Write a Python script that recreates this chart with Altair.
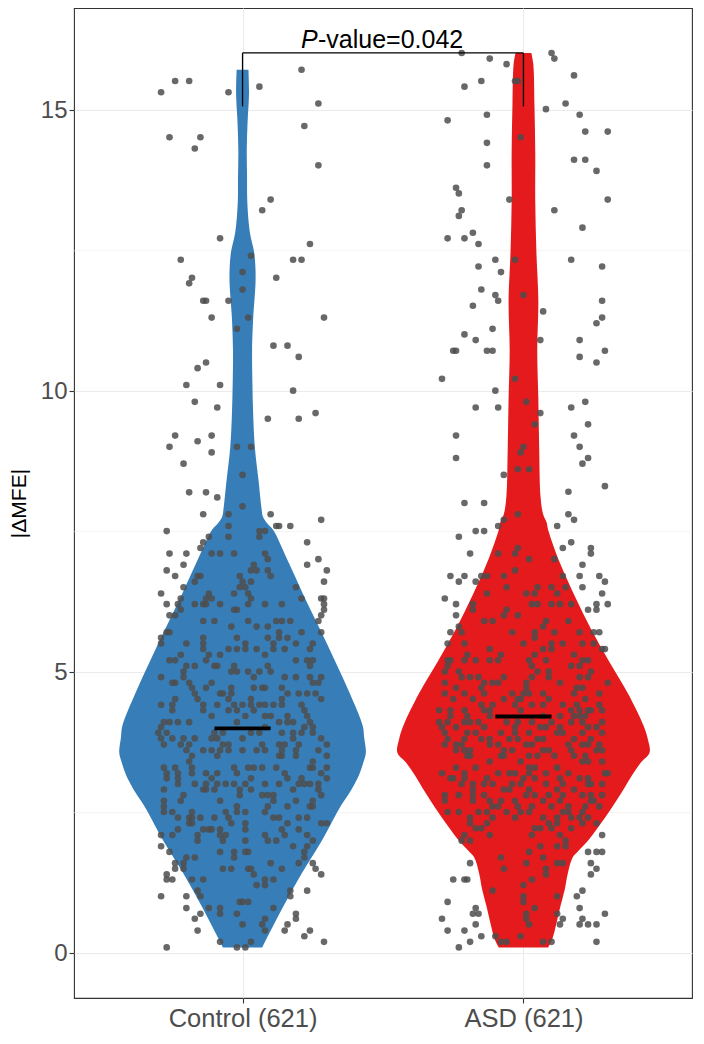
import altair as alt
import pandas as pd

# ---------------- data ----------------
groups = ["Control (621)", "ASD (621)"]
group_pos = [1, 2]
violin_colors = ["#377EB8", "#E41A1C"]
medians = [4.00, 4.21]
p_value_text = ["P", "-value=0.042"]
bracket_top = 16.02
bracket_bottom = 15.07
y_major = [0, 5, 10, 15]
y_minor = [2.5, 7.5, 12.5]

# violin outline: value level and half width (in category units)
ctrl_violin_value = [15.72, 15.30, 14.80, 14.30, 13.83, 13.36, 12.83, 12.48, 12.19, 11.90, 11.60,
                     11.31, 10.73, 10.16, 9.56, 8.99, 8.41, 7.94, 7.76, 7.64, 7.53, 6.94, 6.36,
                     5.78, 5.19, 4.62, 4.04, 3.83, 3.57, 3.39, 3.16, 3.04, 2.87, 2.57, 1.99, 1.42,
                     0.82, 0.24, 0.10]
ctrl_violin_half = [0.021, 0.023, 0.018, 0.015, 0.016, 0.017, 0.026, 0.041, 0.046, 0.046, 0.042,
                    0.038, 0.034, 0.035, 0.038, 0.044, 0.057, 0.067, 0.073, 0.089, 0.109, 0.165, 0.218,
                    0.274, 0.330, 0.382, 0.428, 0.433, 0.439, 0.430, 0.414, 0.402, 0.383, 0.344, 0.281, 0.211,
                    0.144, 0.084, 0.070]
asd_violin_value = [16.02, 15.82, 15.12, 14.25, 13.37, 12.48, 11.60, 10.73, 9.86, 8.99, 8.11, 7.81,
                    7.67, 7.53, 6.94, 6.36, 5.78, 5.19, 4.62, 4.04, 3.80, 3.57, 3.39, 3.16, 2.87,
                    2.57, 2.26, 1.99, 1.82, 1.70, 1.42, 1.13, 0.84, 0.56, 0.24, 0.10]
asd_violin_half = [0.028, 0.035, 0.039, 0.042, 0.042, 0.046, 0.053, 0.049, 0.053, 0.056, 0.061, 0.070,
                   0.082, 0.088, 0.130, 0.182, 0.239, 0.305, 0.372, 0.428, 0.443, 0.449, 0.418, 0.386, 0.351,
                   0.312, 0.269, 0.228, 0.196, 0.175, 0.158, 0.147, 0.132, 0.119, 0.102, 0.088]

# jittered points: (|dMFE| value, [horizontal jitter offsets])
ctrl_rows = [
    (15.72, [0.21]), (15.52, [-0.24, -0.19]), (15.42, [0.06]), (15.32, [-0.29, -0.05]),
    (15.12, [0.27]), (14.72, [0.22]), (14.52, [-0.26, -0.15]), (14.32, [-0.17]), (14.02, [0.27]),
    (13.41, [0.10]), (13.22, [0.07]), (12.72, [-0.08]), (12.62, [0.24]), (12.41, [0.03]),
    (12.34, [-0.22, 0.18, 0.21]), (12.12, [0.00]), (12.02, [-0.18, 0.12]), (11.92, [-0.19]),
    (11.81, [0.00]), (11.61, [-0.14, -0.13, -0.05]), (11.31, [-0.11, 0.02, 0.29]), (11.11, [-0.02]),
    (10.81, [0.11, 0.16]), (10.61, [0.20]), (10.51, [-0.13]), (10.41, [-0.16]), (10.11, [-0.20, -0.08]),
    (10.01, [0.18]), (9.81, [-0.17]), (9.71, [-0.09]), (9.61, [0.26]), (9.51, [0.09, 0.20]),
    (9.21, [-0.24, -0.11]), (9.11, [-0.16]), (9.01, [-0.26, -0.02, 0.03]), (8.91, [-0.11]),
    (8.71, [-0.21]), (8.51, [0.00]), (8.20, [-0.19, -0.13]), (8.11, [-0.09]), (7.95, [0.00]),
    (7.81, [-0.14, -0.05, 0.10]), (7.71, [0.28]), (7.60, [-0.05, 0.12, 0.13, 0.17]),
    (7.51, [-0.27, 0.06, 0.08]), (7.41, [-0.12, -0.05, 0.06]), (7.31, [-0.14, 0.23]), (7.21, [-0.15]),
    (7.11, [-0.26, -0.20, -0.11, -0.08, -0.03, 0.08]), (7.01, [0.09, 0.27]), (6.91, [-0.21, 0.04, 0.23]),
    (6.81, [-0.27, 0.03, 0.05, 0.09, 0.30]), (6.71, [-0.24, -0.16, -0.15, -0.01, 0.10]),
    (6.61, [-0.17, 0.00, 0.03, 0.29]), (6.51, [-0.21, -0.01, 0.01, 0.19]), (6.40, [-0.29, -0.12, -0.03, 0.02]),
    (6.31, [-0.22, -0.13, -0.11, 0.03, 0.21, 0.28, 0.29]),
    (6.21, [-0.27, -0.23, -0.17, -0.14, -0.13, -0.08, 0.02, 0.08, 0.14, 0.29]),
    (6.11, [-0.22, -0.03, -0.02, 0.29]), (6.01, [-0.26, -0.24, 0.28]),
    (5.91, [-0.14, -0.10, 0.02, 0.12, 0.14, 0.17, 0.27]), (5.81, [-0.04, 0.05, 0.09]),
    (5.71, [-0.27, -0.26, 0.13, 0.21, 0.28]), (5.61, [-0.29, -0.14, -0.02, 0.09, 0.13, 0.16]),
    (5.51, [-0.29, -0.20, -0.14, 0.01, 0.11, 0.19, 0.25]),
    (5.41, [-0.14, -0.05, -0.02, 0.01, 0.05, 0.11, 0.15, 0.24]), (5.31, [-0.22, -0.12, -0.08, 0.08]),
    (5.21, [-0.26, -0.24, -0.13, 0.19, 0.23, 0.25]), (5.11, [-0.20, -0.17, -0.10, -0.09, -0.03, 0.09, 0.24]),
    (5.01, [-0.21, -0.04, -0.02, 0.02, 0.06, 0.10]), (4.91, [-0.29, -0.21, 0.04, 0.15, 0.19, 0.24, 0.28]),
    (4.81, [-0.25, -0.24, -0.19, -0.11, 0.25, 0.27]), (4.72, [-0.18, -0.13, -0.04, 0.04, 0.07, 0.08, 0.14]),
    (4.62, [-0.17, -0.08, -0.07, -0.04, 0.16, 0.20, 0.23, 0.26]), (4.52, [-0.24, -0.16, -0.05, 0.03, 0.14, 0.28]),
    (4.42, [-0.29, -0.25, -0.14, -0.09, -0.03, 0.00, 0.03, 0.06, 0.08, 0.11, 0.14, 0.21]),
    (4.32, [-0.25, -0.14, -0.05, -0.02, 0.04, 0.22]), (4.22, [-0.11, 0.01, 0.08, 0.10, 0.16, 0.23]),
    (4.11, [-0.28, -0.26, -0.23, -0.19, -0.02, 0.13, 0.16, 0.18, 0.24]), (4.02, [-0.29, 0.08, 0.22, 0.25]),
    (3.92, [-0.30, -0.27, -0.10, -0.07, 0.03, 0.06, 0.14, 0.18, 0.21, 0.25]),
    (3.82, [-0.29, -0.25, -0.21, -0.17, -0.11, -0.09, 0.00, 0.18, 0.28]),
    (3.71, [-0.28, -0.22, -0.19, -0.07, -0.05, 0.07, 0.13, 0.15, 0.20, 0.30]),
    (3.61, [-0.20, -0.14, -0.11, -0.08, -0.05, 0.00, 0.05, 0.08, 0.14, 0.19, 0.27]),
    (3.51, [-0.18, -0.09, 0.13, 0.14, 0.19, 0.30]), (3.41, [-0.19, 0.25]),
    (3.30, [-0.28, -0.24, -0.18, -0.03, 0.02, 0.04, 0.07, 0.12, 0.24, 0.25, 0.30]),
    (3.20, [-0.27, -0.23, -0.18, -0.13, -0.09, -0.02, 0.15, 0.28]),
    (3.11, [-0.27, -0.23, -0.11, 0.03, 0.16, 0.21, 0.30]),
    (3.01, [-0.23, -0.17, -0.13, -0.09, -0.06, -0.03, 0.01, 0.08, 0.13, 0.20, 0.22, 0.24, 0.27]),
    (2.91, [-0.28, -0.14, -0.13, -0.10, -0.01, 0.03, 0.18, 0.27]), (2.81, [-0.21, -0.01, 0.07, 0.09, 0.11, 0.28]),
    (2.71, [-0.28, -0.22, -0.08, 0.11, 0.19, 0.25]), (2.61, [-0.28, -0.02, 0.09, 0.16, 0.24, 0.25]),
    (2.51, [-0.28, -0.25, -0.18, -0.06, -0.02, 0.01, 0.08]),
    (2.41, [-0.23, -0.19, -0.18, -0.15, -0.10, -0.05, 0.11, 0.13, 0.20, 0.23]),
    (2.31, [-0.19, -0.18, -0.04, 0.01, 0.16, 0.28, 0.30]), (2.20, [-0.23, -0.14, -0.12, -0.11, -0.08, 0.01, 0.14, 0.20]),
    (2.10, [-0.29, -0.25, -0.16, -0.08, -0.06, 0.08, 0.15, 0.23]), (2.00, [-0.16, -0.07, 0.01, 0.09, 0.12, 0.25]),
    (1.90, [-0.29, 0.18, 0.23]), (1.80, [-0.26, -0.08, -0.03, 0.01, 0.02, 0.22]), (1.70, [-0.20, -0.17, -0.03, 0.22]),
    (1.60, [-0.24, -0.21, 0.10, 0.20, 0.25]), (1.50, [-0.24, -0.21, -0.07, -0.04, 0.02, 0.03, 0.14, 0.26]),
    (1.40, [-0.27, 0.04, 0.28]), (1.31, [-0.27, -0.25, -0.18, -0.14, 0.08, 0.11]), (1.21, [0.05, 0.08]),
    (1.11, [-0.16, 0.17, 0.23]), (1.01, [-0.29, -0.20, -0.15, 0.17]), (0.91, [-0.01, 0.00, 0.02]),
    (0.80, [-0.20, -0.12, -0.08, 0.11]), (0.70, [-0.15, -0.08, -0.02, 0.19]), (0.61, [-0.17, 0.08, 0.19]),
    (0.51, [0.00, 0.07, 0.16]), (0.40, [-0.16, 0.08, 0.15, 0.24]), (0.30, [0.22]), (0.20, [-0.08, 0.03, 0.29]),
    (0.10, [-0.27, -0.02, 0.01]),
]

asd_rows = [
    (16.02, [-0.22, 0.10]), (15.92, [-0.12, 0.11]), (15.82, [-0.06]), (15.62, [0.18]),
    (15.52, [-0.15, -0.03, -0.02]), (15.42, [-0.21]), (15.12, [0.15]), (15.02, [0.08]), (14.92, [-0.13, 0.20]),
    (14.82, [-0.27]), (14.62, [0.22, 0.30]), (14.52, [-0.01]), (14.42, [-0.13]), (14.12, [0.18, 0.22]),
    (14.02, [-0.13]), (13.92, [0.26]), (13.62, [-0.24]), (13.52, [-0.23]), (13.41, [-0.05, 0.30]),
    (13.22, [-0.22, 0.11]), (13.12, [-0.23]), (12.91, [0.21]), (12.82, [-0.18]), (12.72, [-0.27, -0.21]),
    (12.62, [-0.16]), (12.34, [-0.10, -0.03, 0.17]), (12.22, [-0.16, 0.28]), (12.12, [-0.08]), (11.81, [-0.15]),
    (11.71, [-0.10, 0.00]), (11.61, [-0.09, 0.28]), (11.52, [-0.18]), (11.42, [0.07]), (11.31, [0.28]),
    (11.21, [0.26]), (11.11, [-0.11]), (11.01, [-0.21]), (10.91, [-0.17, 0.06, 0.20]),
    (10.72, [-0.25, -0.24, -0.13, -0.11, 0.29]), (10.61, [0.20]), (10.51, [0.26]), (10.22, [-0.29, -0.03]),
    (10.01, [-0.10]), (9.81, [0.01, 0.22]), (9.71, [-0.17, -0.09, 0.17]), (9.61, [0.06]), (9.41, [0.04, 0.23]),
    (9.21, [-0.24, 0.18]), (9.01, [0.00, 0.20]), (8.91, [-0.01]), (8.81, [-0.24, 0.23]), (8.71, [0.21]),
    (8.61, [-0.02, 0.02]), (8.51, [-0.07]), (8.31, [0.29]), (8.21, [0.16]), (8.01, [-0.21, -0.14]),
    (7.81, [-0.02, 0.16]), (7.71, [-0.07, 0.18]), (7.60, [-0.09, 0.12]), (7.51, [-0.17, -0.14]), (7.41, [-0.23]),
    (7.31, [0.17]), (7.21, [-0.02, 0.14, 0.24]), (7.11, [-0.19, -0.09, -0.03, 0.24]), (7.01, [0.02, 0.11]),
    (6.91, [0.21]), (6.81, [-0.03]), (6.71, [-0.26, -0.21, -0.15, -0.13, -0.07, 0.14, 0.20, 0.27]),
    (6.61, [-0.23, -0.17, 0.29]), (6.51, [-0.06, 0.05, 0.10, 0.15, 0.21]), (6.40, [-0.13, 0.01, 0.04, 0.12, 0.28]),
    (6.31, [-0.28]), (6.21, [-0.24, -0.18, 0.03, 0.05, 0.10, 0.13, 0.17, 0.26, 0.30]),
    (6.11, [-0.18, -0.06, 0.23, 0.26]), (6.01, [-0.24, -0.07, -0.02]), (5.91, [-0.14, -0.11, 0.08, 0.16]),
    (5.81, [-0.23, 0.07]), (5.71, [-0.26, -0.22, -0.04, 0.04, 0.11, 0.20, 0.25, 0.27]), (5.61, [0.04]),
    (5.51, [-0.27, -0.21, 0.00, 0.10, 0.14, 0.21, 0.25]), (5.41, [-0.12, 0.07, 0.10, 0.28, 0.29]),
    (5.31, [-0.20, -0.08, 0.04, 0.18]), (5.21, [-0.27, -0.26, -0.21, -0.17, -0.12, -0.09, 0.02, 0.08, 0.21, 0.23]),
    (5.11, [-0.27, 0.03, 0.17, 0.20]), (5.01, [-0.28, -0.23, 0.05, 0.09, 0.24]),
    (4.91, [-0.22, -0.19, -0.16, -0.07, 0.03, 0.09, 0.20, 0.23]), (4.81, [-0.28, -0.14, -0.11, -0.09, 0.01, 0.13, 0.30]),
    (4.72, [-0.24, -0.15, 0.01, 0.19, 0.21]), (4.62, [-0.28, -0.21, -0.14, -0.04, 0.00, 0.02, 0.07, 0.18, 0.27]),
    (4.52, [-0.25, -0.18, -0.07, -0.02, -0.01, 0.09, 0.22]), (4.42, [-0.15, -0.11, -0.03, 0.03, 0.07, 0.14, 0.19, 0.27]),
    (4.32, [-0.30, -0.26, -0.21, -0.14, -0.12, -0.01, 0.17, 0.20, 0.23, 0.24, 0.28]),
    (4.22, [-0.26, -0.20, -0.12, 0.07, 0.13, 0.18, 0.20, 0.22]),
    (4.11, [-0.30, -0.27, -0.21, -0.19, -0.16, -0.06, -0.02, 0.03, 0.10, 0.17, 0.21, 0.28]),
    (4.02, [-0.29, -0.24, -0.14, -0.03, 0.06, 0.08, 0.13, 0.23, 0.26]),
    (3.92, [-0.28, -0.20, -0.17, -0.08, -0.03, 0.02, 0.12, 0.14, 0.21, 0.28]),
    (3.81, [-0.27, -0.21, -0.15, -0.12, -0.05, -0.02, 0.05, 0.07, 0.18, 0.24]),
    (3.71, [-0.28, -0.24, -0.22, -0.12, -0.09, 0.01, 0.03, 0.16, 0.21, 0.23, 0.27]),
    (3.61, [-0.24, -0.21, -0.19, -0.07, -0.04, 0.07, 0.09, 0.17, 0.26, 0.28]),
    (3.51, [-0.20, -0.19, -0.08, -0.07, 0.02, 0.05, 0.11, 0.18, 0.22]), (3.41, [-0.12, -0.01, 0.21, 0.23, 0.28]),
    (3.30, [-0.24, -0.17, 0.02, 0.04, 0.12]), (3.20, [-0.29, -0.21, -0.09, -0.05, -0.03, 0.02, 0.08, 0.16, 0.29, 0.30]),
    (3.11, [-0.26, -0.25, -0.21, -0.13, 0.00, 0.04, 0.13, 0.20, 0.23]),
    (3.01, [-0.22, -0.18, -0.14, -0.11, -0.04, -0.01, 0.08, 0.14, 0.23, 0.24, 0.28]),
    (2.91, [-0.18, -0.07, -0.05, 0.02, 0.12, 0.18]),
    (2.81, [-0.28, -0.23, -0.18, -0.14, 0.01, 0.04, 0.09, 0.14, 0.21, 0.24, 0.28]),
    (2.71, [-0.28, -0.18, -0.12, -0.08, -0.03, 0.07, 0.13, 0.24, 0.25]),
    (2.61, [-0.11, -0.09, -0.02, 0.03, 0.10, 0.16, 0.22, 0.27]),
    (2.51, [-0.27, -0.23, -0.16, -0.13, -0.06, -0.01, 0.02, 0.14, 0.16, 0.21]),
    (2.41, [-0.19, -0.11, -0.03, 0.07, 0.12, 0.17, 0.20, 0.23]), (2.31, [-0.19, -0.13, 0.09, 0.12, 0.21, 0.26]),
    (2.22, [-0.17, -0.15, 0.04, 0.06, 0.10, 0.17]), (2.10, [-0.21, -0.12, 0.03, 0.13, 0.28]),
    (2.00, [-0.22, -0.19, 0.15]), (1.90, [0.06, 0.12, 0.15]), (1.80, [0.02, 0.23, 0.26, 0.28]),
    (1.70, [-0.08, 0.07]), (1.60, [-0.19, 0.01, 0.12, 0.14, 0.24]), (1.50, [-0.07, 0.08, 0.26]),
    (1.40, [0.08, 0.24]), (1.31, [-0.25, -0.21, -0.20, 0.03]), (1.21, [0.00]), (1.11, [-0.11, 0.21]),
    (1.01, [0.00, 0.12, 0.19]), (0.91, [-0.27, 0.00]), (0.80, [-0.17, 0.04, 0.20]),
    (0.70, [-0.18, -0.16, 0.01, 0.12, 0.29]), (0.61, [-0.29, 0.01, 0.14, 0.21]),
    (0.51, [-0.17, 0.02, 0.13, 0.20, 0.23, 0.26]), (0.40, [-0.27, -0.21]), (0.30, [-0.15, -0.10, -0.01]),
    (0.20, [-0.19, -0.08, -0.06, 0.07, 0.10, 0.26]), (0.10, [-0.23]),
]

# ---------------- tables ----------------
violin_records = []
for g, pos, vals, halves in [(groups[0], group_pos[0], ctrl_violin_value, ctrl_violin_half),
                             (groups[1], group_pos[1], asd_violin_value, asd_violin_half)]:
    for v, h in zip(vals, halves):
        violin_records.append({"group": g, "value": v, "left": pos - h, "right": pos + h})
violin_df = pd.DataFrame(violin_records)

point_records = []
for g, pos, rows in [(groups[0], group_pos[0], ctrl_rows), (groups[1], group_pos[1], asd_rows)]:
    for v, jit in rows:
        for j in jit:
            point_records.append({"group": g, "value": v, "xpos": pos + j})
points_df = pd.DataFrame(point_records)

median_half = 0.1
median_df = pd.DataFrame({"group": groups, "value": medians,
                          "x1": [p - median_half for p in group_pos],
                          "x2": [p + median_half for p in group_pos]})

bracket_h = pd.DataFrame({"x1": [group_pos[0]], "x2": [group_pos[1]], "y": [bracket_top]})
bracket_v = pd.DataFrame({"x": group_pos, "y1": [bracket_bottom] * 2, "y2": [bracket_top] * 2})
label_df = pd.DataFrame({"x": [(group_pos[0] + group_pos[1]) / 2], "y": [bracket_top]})
minor_df = pd.DataFrame({"y": y_minor})

# ---------------- scales / axes ----------------
xscale = alt.Scale(domain=[0.4, 2.6], nice=False, zero=False)
yscale = alt.Scale(domain=[-0.8, 16.82], nice=False, zero=False)

label_expr = "datum.value == %d ? '%s' : '%s'" % (group_pos[0], groups[0], groups[1])
xaxis = alt.Axis(values=group_pos, labelExpr=label_expr, title=None, grid=True,
                 gridColor="#ebebeb", gridWidth=1.1, domain=False, tickColor="#333333",
                 tickSize=5, tickWidth=1.1, labelFontSize=25.5, labelColor="#4d4d4d", labelPadding=3)
yaxis = alt.Axis(values=y_major, title="|ΔMFE|", grid=True, gridColor="#ebebeb", gridWidth=1.1,
                 domain=False, tickColor="#333333", tickSize=5, tickWidth=1.1, labelFontSize=24,
                 labelColor="#4d4d4d", labelPadding=2, titleFontSize=21, titleFontWeight="normal",
                 titleColor="#000000", titlePadding=11)

minor = alt.Chart(minor_df).mark_rule(color="#ebebeb", strokeWidth=0.6).encode(
    y=alt.Y("y:Q", scale=yscale, axis=yaxis))

violins = alt.Chart(violin_df).mark_area(orient="horizontal", opacity=1,
                                          interpolate="catmull-rom").encode(
    y=alt.Y("value:Q", scale=yscale, axis=yaxis),
    x=alt.X("left:Q", scale=xscale, axis=xaxis),
    x2="right:Q",
    color=alt.Color("group:N", scale=alt.Scale(domain=groups, range=violin_colors), legend=None),
    detail="group:N",
)

points = alt.Chart(points_df).mark_circle(size=44, color="#4d4d4d", opacity=0.85).encode(
    x=alt.X("xpos:Q", scale=xscale, axis=xaxis),
    y=alt.Y("value:Q", scale=yscale, axis=yaxis),
)

median_rules = alt.Chart(median_df).mark_rule(color="#000000", strokeWidth=3.8).encode(
    x=alt.X("x1:Q", scale=xscale, axis=xaxis), x2="x2:Q",
    y=alt.Y("value:Q", scale=yscale, axis=yaxis),
)

br_h = alt.Chart(bracket_h).mark_rule(color="#000000", strokeWidth=1.3).encode(
    x=alt.X("x1:Q", scale=xscale, axis=xaxis), x2="x2:Q",
    y=alt.Y("y:Q", scale=yscale, axis=yaxis),
)
br_v = alt.Chart(bracket_v).mark_rule(color="#000000", strokeWidth=1.3).encode(
    x=alt.X("x:Q", scale=xscale, axis=xaxis),
    y=alt.Y("y1:Q", scale=yscale, axis=yaxis), y2="y2:Q",
)

txt_p = alt.Chart(label_df).mark_text(text=p_value_text[0], fontStyle="italic", fontSize=25,
                                      align="left", baseline="alphabetic", dx=-82, dy=-5,
                                      color="#000000").encode(
    x=alt.X("x:Q", scale=xscale, axis=xaxis), y=alt.Y("y:Q", scale=yscale, axis=yaxis))
txt_rest = alt.Chart(label_df).mark_text(text=p_value_text[1], fontSize=25, align="left",
                                         baseline="alphabetic", dx=-65, dy=-5,
                                         color="#000000").encode(
    x=alt.X("x:Q", scale=xscale, axis=xaxis), y=alt.Y("y:Q", scale=yscale, axis=yaxis))

chart = alt.layer(minor, violins, points, median_rules, br_h, br_v, txt_p, txt_rest).properties(
    width=618, height=990,
    padding={"left": 0, "top": 0, "right": 2, "bottom": 0},
    background="#ffffff",
).configure(font="Liberation Sans").configure_view(stroke="#333333", strokeWidth=1.1)

chart.save("out.html", embed_options={"renderer": "svg", "actions": False})
